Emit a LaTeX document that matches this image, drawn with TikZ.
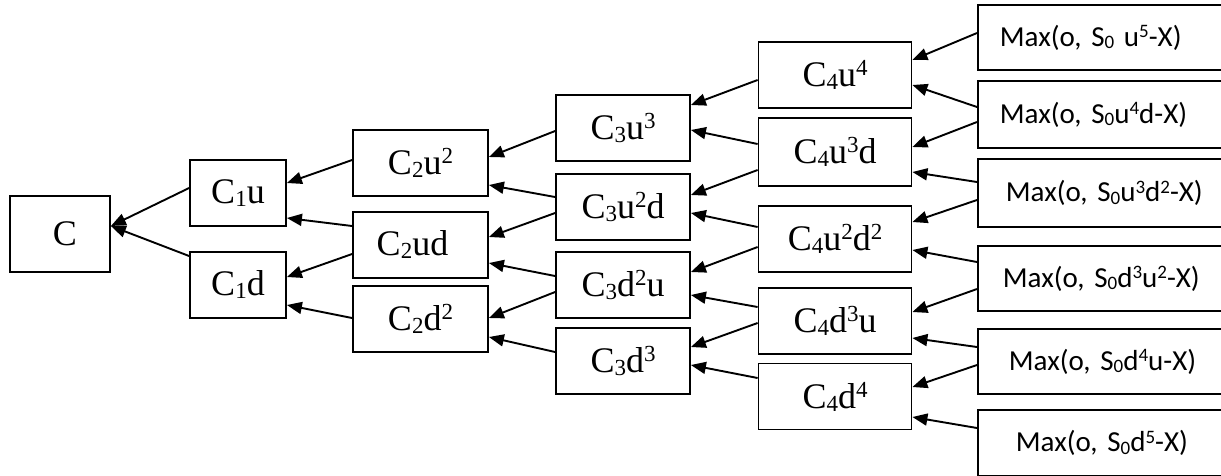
\documentclass[tikz,border=0pt]{standalone}
\usepackage{fontspec}
\setmainfont{Liberation Serif}
\newfontfamily\maxfont{Carlito}
\usetikzlibrary{arrows.meta}
\newcommand\csup[1]{\raisebox{11pt}{\fontsize{23}{23}\selectfont #1}}
\newcommand\csub[1]{\raisebox{-3pt}{\fontsize{23}{23}\selectfont #1}}
\newcommand\msup[1]{\raisebox{8.5pt}{\fontsize{19}{19}\selectfont #1}}
\newcommand\msub[1]{\raisebox{-2.5pt}{\fontsize{19}{19}\selectfont #1}}
\begin{document}
\begin{tikzpicture}[x=1pt,y=-1pt,
  cbox/.style={draw, line width=1.8pt, minimum height=66pt, inner sep=0pt, font=\fontsize{36}{40}\selectfont},
  maxbox/.style={draw, line width=1.8pt, anchor=west, text width=260pt, align=left, inner ysep=0pt, font=\maxfont\fontsize{29}{32}\selectfont},
  arr/.style={line width=1.9pt, -{Triangle[length=15pt,width=12pt]}}]
\useasboundingbox (0,0) rectangle (1221,475);
\clip (0,0) rectangle (1221,475);
% column 0
\node[cbox, minimum width=100pt, minimum height=76pt, text depth=0pt] (c) at (60,234) {\hspace*{10pt}C};
% column 1
\node[cbox, minimum width=96pt] (c1u) at (238,193) {C\csub{1}u};
\node[cbox, minimum width=96pt] (c1d) at (238,285) {C\csub{1}d};
% column 2
\node[cbox, minimum width=135pt] (c2uu) at (420.5,163) {C\csub{2}u\csup{2}};
\node[cbox, minimum width=135pt] (c2ud) at (420.5,245) {C\csub{2}ud\hspace*{16pt}};
\node[cbox, minimum width=135pt] (c2dd) at (420.5,319) {C\csub{2}d\csup{2}};
% column 3
\node[cbox, minimum width=134pt] (c3uuu) at (623,128) {C\csub{3}u\csup{3}};
\node[cbox, minimum width=134pt] (c3uud) at (623,207) {C\csub{3}u\csup{2}d};
\node[cbox, minimum width=134pt] (c3ddu) at (623,285) {C\csub{3}d\csup{2}u};
\node[cbox, minimum width=134pt] (c3ddd) at (623,361) {C\csub{3}d\csup{3}};
% column 4
\node[cbox, minimum width=153pt] (c4u4) at (835,75) {C\csub{4}u\csup{4}};
\node[cbox, minimum width=153pt, minimum height=68pt] (c4u3d) at (835,152) {C\csub{4}u\csup{3}d};
\node[cbox, minimum width=153pt] (c4u2d2) at (835,239) {C\csub{4}u\csup{2}d\csup{2}};
\node[cbox, minimum width=153pt] (c4d3u) at (835,321) {C\csub{4}d\csup{3}u};
\node[cbox, minimum width=153pt] (c4d4) at (835,396.5) {C\csub{4}d\csup{4}};
% column 5
\node[maxbox, minimum height=65pt, inner xsep=22pt] (m1) at (977,37.5) {Max(o, S\msub{0} u\msup{5}-X)};
\node[maxbox, minimum height=67pt, inner xsep=22pt] (m2) at (977,114.5) {Max(o, S\msub{0}u\msup{4}d-X)};
\node[maxbox, minimum height=68pt, inner xsep=28pt] (m3) at (977,193) {Max(o, S\msub{0}u\msup{3}d\msup{2}-X)};
\node[maxbox, minimum height=65pt, inner xsep=25pt] (m4) at (977,278.5) {Max(o, S\msub{0}d\msup{3}u\msup{2}-X)};
\node[maxbox, minimum height=65pt, inner xsep=31pt] (m5) at (977,361.5) {Max(o, S\msub{0}d\msup{4}u-X)};
\node[maxbox, minimum height=66pt, inner xsep=38pt] (m6) at (977,443) {Max(o, S\msub{0}d\msup{5}-X)};
% Max -> C4
\draw[arr] ([yshift=4.5pt]m1.west) -- ([yshift=15pt]c4u4.east);
\draw[arr] ([yshift=7.5pt]m2.west) -- ([yshift=-10pt]c4u4.east);
\draw[arr] ([yshift=-7.5pt]m2.west) -- ([yshift=5pt]c4u3d.east);
\draw[arr] ([yshift=11pt]m3.west) -- ([yshift=-20pt]c4u3d.east);
\draw[arr] ([yshift=-7pt]m3.west) -- ([yshift=17pt]c4u2d2.east);
\draw[arr] ([yshift=16.5pt]m4.west) -- ([yshift=-11pt]c4u2d2.east);
\draw[arr] ([yshift=-10.5pt]m4.west) -- ([yshift=9pt]c4d3u.east);
\draw[arr] ([yshift=14.5pt]m5.west) -- ([yshift=-17pt]c4d3u.east);
\draw[arr] ([yshift=-3.5pt]m5.west) -- ([yshift=9.5pt]c4d4.east);
\draw[arr] ([yshift=15pt]m6.west) -- ([yshift=-20.5pt]c4d4.east);
% C4 -> C3
\draw[arr] ([yshift=-5pt]c4u4.west) -- ([yshift=23pt]c3uuu.east);
\draw[arr] ([yshift=8pt]c4u3d.west) -- ([yshift=-2pt]c3uuu.east);
\draw[arr] ([yshift=-18pt]c4u3d.west) -- ([yshift=12pt]c3uud.east);
\draw[arr] ([yshift=12pt]c4u2d2.west) -- ([yshift=-6pt]c3uud.east);
\draw[arr] ([yshift=-8pt]c4u2d2.west) -- ([yshift=13pt]c3ddu.east);
\draw[arr] ([yshift=14pt]c4d3u.west) -- ([yshift=-10pt]c3ddu.east);
\draw[arr] ([yshift=-2pt]c4d3u.west) -- ([yshift=14pt]c3ddd.east);
\draw[arr] ([yshift=18.5pt]c4d4.west) -- ([yshift=-4pt]c3ddd.east);
% C3 -> C2
\draw[arr] ([yshift=-3pt]c3uuu.west) -- ([yshift=6pt]c2uu.east);
\draw[arr] ([yshift=10pt]c3uud.west) -- ([yshift=-22pt]c2uu.east);
\draw[arr] ([yshift=-6pt]c3uud.west) -- ([yshift=8pt]c2ud.east);
\draw[arr] ([yshift=9pt]c3ddu.west) -- ([yshift=-18pt]c2ud.east);
\draw[arr] ([yshift=-7pt]c3ddu.west) -- ([yshift=1pt]c2dd.east);
\draw[arr] ([yshift=9pt]c3ddd.west) -- ([yshift=-18pt]c2dd.east);
% C2 -> C1
\draw[arr] ([yshift=3pt]c2uu.west) -- ([yshift=10pt]c1u.east);
\draw[arr] ([yshift=19pt]c2ud.west) -- ([yshift=-25pt]c1u.east);
\draw[arr] ([yshift=-9pt]c2ud.west) -- ([yshift=8pt]c1d.east);
\draw[arr] ([yshift=1pt]c2dd.west) -- ([yshift=-20pt]c1d.east);
% C1 -> C
\draw[arr] ([yshift=5pt]c1u.west) -- ([yshift=8pt]c.east);
\draw[arr] ([yshift=29pt]c1d.west) -- ([yshift=8pt]c.east);
\end{tikzpicture}
\end{document}
